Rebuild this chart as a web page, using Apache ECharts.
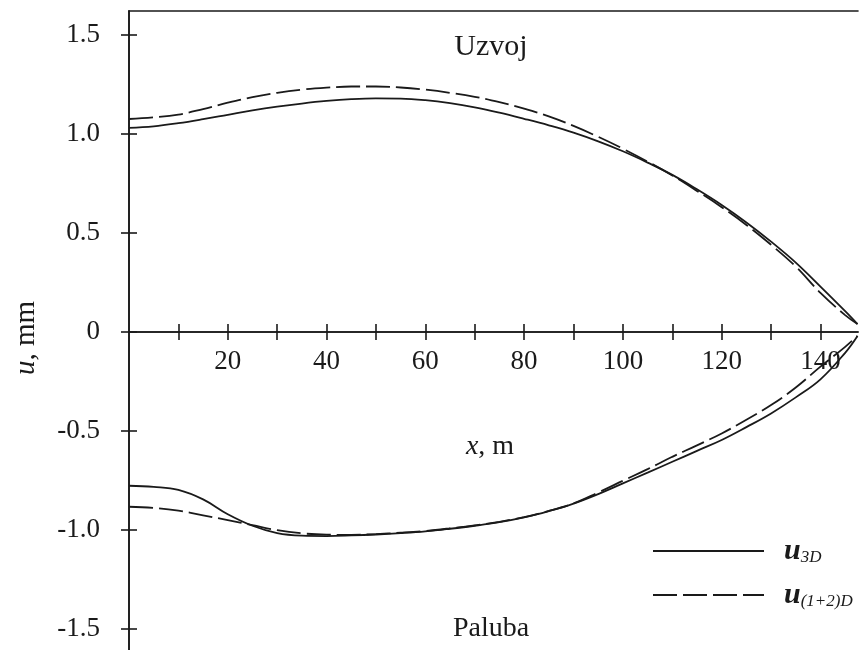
<!DOCTYPE html>
<html>
<head>
<meta charset="utf-8">
<script src="https://cdn.jsdelivr.net/npm/echarts@6/dist/echarts.min.js"></script>
<style>
html,body{margin:0;padding:0;background:#fff;}
#chart{width:860px;height:650px;}
</style>
</head>
<body>
<div id="chart"></div>
<script>
// x positions (m)
var xs = [0,5,10,15,20,25,30,35,40,45,50,55,60,65,70,75,80,85,90,95,100,105,110,115,120,125,130,135,140,145,147.5];
// upper branch (Uzvoj)
var u3dUpper  = [1.030,1.038,1.054,1.074,1.096,1.118,1.137,1.153,1.166,1.175,1.179,1.178,1.170,1.155,1.134,1.107,1.076,1.043,1.006,0.962,0.912,0.855,0.793,0.720,0.641,0.553,0.456,0.350,0.229,0.105,0.04];
var u12dUpper = [1.075,1.083,1.097,1.125,1.157,1.185,1.207,1.223,1.233,1.239,1.239,1.234,1.223,1.207,1.187,1.160,1.127,1.088,1.040,0.985,0.925,0.860,0.790,0.712,0.630,0.540,0.440,0.330,0.197,0.085,0.04];
// lower branch (Paluba)
var u3dLower  = [-0.776,-0.782,-0.797,-0.845,-0.920,-0.978,-1.015,-1.028,-1.030,-1.027,-1.022,-1.015,-1.006,-0.993,-0.978,-0.960,-0.936,-0.904,-0.866,-0.818,-0.764,-0.710,-0.655,-0.600,-0.545,-0.480,-0.411,-0.330,-0.239,-0.105,-0.02];
var u12dLower = [-0.882,-0.888,-0.902,-0.925,-0.950,-0.975,-1.000,-1.016,-1.023,-1.024,-1.020,-1.013,-1.004,-0.991,-0.976,-0.958,-0.934,-0.903,-0.865,-0.810,-0.751,-0.692,-0.630,-0.572,-0.512,-0.443,-0.369,-0.280,-0.175,-0.075,-0.02];
// ticks
var xTicks = [10,20,30,40,50,60,70,80,90,100,110,120,130,140];
var xLabels = [20,40,60,80,100,120,140];
var yTicks = [-1.5,-1.0,-0.5,0,0.5,1.0,1.5];
var seriesNames = ['u3D','u(1+2)D'];

function pairs(x, y){ return x.map(function(v,i){ return [v, y[i]]; }); }

var FONT = 'Liberation Serif';
var INK = '#1a1a1a';
var xMin = 0, xMax = 147.6, yMin = -1.605, yMax = 1.62;
var GRID_TOP = 11, GRID_BOTTOM = 0, H = 650;
var gridH = H - GRID_TOP - GRID_BOTTOM;
var zeroY = GRID_TOP + gridH * (yMax / (yMax - yMin));
var zeroOffset = -((H - GRID_BOTTOM) - zeroY);

function mkX(extra){
  var base = {type:'value', min:xMin, max:xMax, splitLine:{show:false},
    axisLine:{show:true, onZero:false, lineStyle:{color:INK, width:1.6}},
    axisTick:{show:true, length:8, inside:false, customValues:xTicks, lineStyle:{color:INK, width:1.6}},
    axisLabel:{show:false}};
  for (var k in extra) base[k] = extra[k];
  return base;
}
function mkY(extra){
  var base = {type:'value', min:yMin, max:yMax, position:'left', splitLine:{show:false},
    axisLine:{show:true, onZero:false, lineStyle:{color:INK, width:1.6}},
    axisTick:{show:true, length:8, inside:false, customValues:yTicks, lineStyle:{color:INK, width:1.6}},
    axisLabel:{show:false}};
  for (var k in extra) base[k] = extra[k];
  return base;
}

var solid = {color:INK, width:1.8, type:'solid'};
var dashed = {color:INK, width:1.8, type:[24,6]};

var chart = echarts.init(document.getElementById('chart'), null, {renderer:'canvas'});
chart.setOption({
  animation:false,
  backgroundColor:'#fff',
  grid:{left:129, top:GRID_TOP, right:2, bottom:GRID_BOTTOM, containLabel:false, outerBoundsMode:'none'},
  xAxis:[
    mkX({position:'bottom', offset:zeroOffset,
      axisLabel:{show:true, customValues:xLabels, margin:16, color:INK, fontFamily:FONT, fontSize:27}}),
    mkX({position:'bottom', offset:zeroOffset,
      axisTick:{show:true, length:8, inside:true, customValues:xTicks, lineStyle:{color:INK, width:1.6}}}),
    mkX({position:'top', axisTick:{show:false}})
  ],
  yAxis:[
    mkY({axisLabel:{show:true, customValues:yTicks, margin:29, color:INK, fontFamily:FONT, fontSize:27,
      formatter:function(v){ return v===0 ? '0' : v.toFixed(1); }}}),
    mkY({axisTick:{show:true, length:8, inside:true, customValues:yTicks, lineStyle:{color:INK, width:1.6}}})
  ],
  legend:{
    orient:'vertical', left:652, top:535, padding:0,
    itemWidth:111, itemHeight:14, itemGap:13,
    itemStyle:{opacity:0},
    data:seriesNames,
    formatter:function(name){ return name==='u3D' ? '{i|u}{s|3D}' : '{i|u}{s|(1+2)D}'; },
    textStyle:{color:INK, fontFamily:FONT,
      rich:{
        i:{fontFamily:FONT, fontStyle:'italic', fontWeight:'bold', fontSize:30, lineHeight:30, verticalAlign:'top', padding:[0,0,0,15], color:INK},
        s:{fontFamily:FONT, fontStyle:'italic', fontSize:17, lineHeight:20, verticalAlign:'bottom', padding:[14,0,0,0], color:INK}
      }}
  },
  series:[
    {name:seriesNames[0], type:'line', xAxisIndex:0, yAxisIndex:0, data:pairs(xs,u3dUpper), smooth:0.4, symbol:'none', lineStyle:solid, itemStyle:{color:INK}},
    {name:seriesNames[0], type:'line', xAxisIndex:0, yAxisIndex:0, data:pairs(xs,u3dLower), smooth:0.4, symbol:'none', lineStyle:solid, itemStyle:{color:INK}},
    {name:seriesNames[1], type:'line', xAxisIndex:0, yAxisIndex:0, data:pairs(xs,u12dUpper), smooth:0.4, symbol:'none', lineStyle:dashed, itemStyle:{color:INK}},
    {name:seriesNames[1], type:'line', xAxisIndex:0, yAxisIndex:0, data:pairs(xs,u12dLower), smooth:0.4, symbol:'none', lineStyle:dashed, itemStyle:{color:INK}}
  ],
  graphic:[
    {type:'text', x:491, y:47, style:{text:'Uzvoj', fill:INK, font:'30px "Liberation Serif"', align:'center', verticalAlign:'middle'}},
    {type:'text', x:491, y:629, style:{text:'Paluba', fill:INK, font:'28px "Liberation Serif"', align:'center', verticalAlign:'middle'}},
    {type:'text', x:490, y:447, style:{text:'{i|x}, m', fill:INK, font:'28px "Liberation Serif"', align:'center', verticalAlign:'middle',
      rich:{i:{fontStyle:'italic', fontFamily:FONT, fontSize:28}}}},
    {type:'text', x:26, y:338, rotation:Math.PI/2, style:{text:'{i|u}, mm', fill:INK, font:'29px "Liberation Serif"', align:'center', verticalAlign:'middle',
      rich:{i:{fontStyle:'italic', fontFamily:FONT, fontSize:29}}}}
  ]
});
</script>
</body>
</html>
